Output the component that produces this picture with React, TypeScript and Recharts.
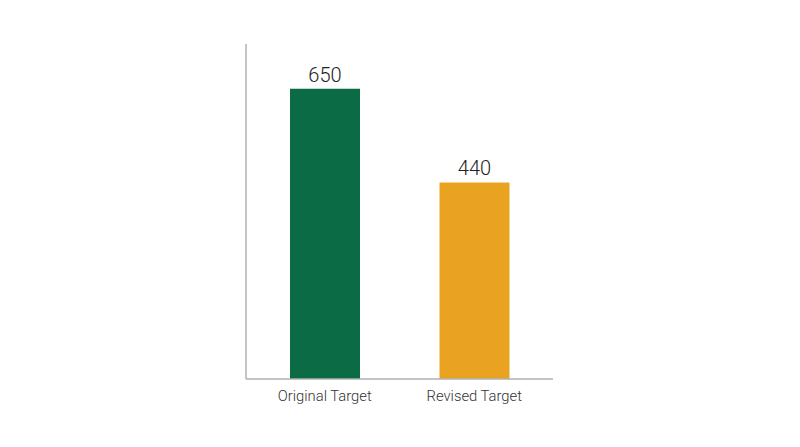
import React from "react";
import { BarChart, Bar, XAxis, YAxis, Cell, LabelList } from "recharts";

const categories = ["Original Target", "Revised Target"];
const values = [650, 440];
const COLORS = ["#0b6b45", "#e9a320"];

const data = categories.map((name, i) => ({ name, value: values[i] }));

const App = () => {
  return (
    <div style={{ position: "absolute", left: 0, top: 0, width: 800, height: 447, background: "#fff" }}>
      <BarChart
        width={800}
        height={447}
        data={data}
        margin={{ top: 44, right: 247, bottom: 38, left: 236 }}
        style={{ fontFamily: "Roboto", fontWeight: 300 }}
      >
        <XAxis
          dataKey="name"
          height={30}
          tickLine={false}
          tickMargin={5}
          padding={{ left: 4, right: 4 }}
          axisLine={{ stroke: "#b0b0b0", strokeWidth: 1.5 }}
          tick={{ fill: "#333", fontSize: 14.8, fontWeight: 300 }}
        />
        <YAxis
          width={10}
          domain={[0, 750]}
          tick={false}
          tickLine={false}
          axisLine={{ stroke: "#b0b0b0", strokeWidth: 1.5 }}
        />
        <Bar dataKey="value" barSize={70} isAnimationActive={false}>
          {data.map((entry, index) => (
            <Cell key={`cell-${index}`} fill={COLORS[index]} />
          ))}
          <LabelList
            dataKey="value"
            position="top"
            offset={7}
            style={{ fill: "#222", fontSize: 20, fontWeight: 300 }}
          />
        </Bar>
      </BarChart>
    </div>
  );
};

export default App;
